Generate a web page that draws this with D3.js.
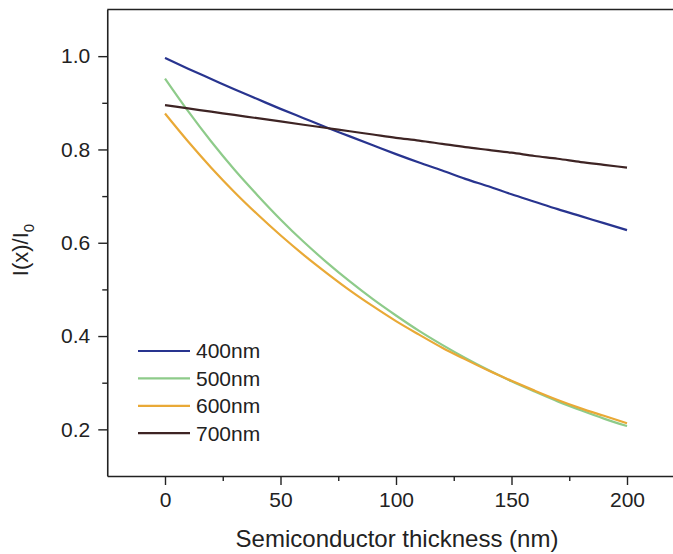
<!DOCTYPE html>
<html>
<head>
<meta charset="utf-8">
<script src="https://cdn.jsdelivr.net/npm/d3@7"></script>
<style>
  body { margin: 0; background: #fff; }
  svg { display: block; font-family: "Liberation Sans", Arial, sans-serif; }
</style>
</head>
<body>
<svg id="chart" width="673" height="554"></svg>
<script>
// thickness values (nm)
const thickness = [0, 10, 20, 30, 40, 50, 60, 70, 80, 90, 100, 110, 120, 130, 140, 150, 160, 170, 180, 190, 200];

// I(x)/I0
const i400 = [0.996, 0.973, 0.951, 0.929, 0.908, 0.887, 0.867, 0.847, 0.828, 0.809, 0.790, 0.772, 0.755, 0.737, 0.721, 0.704, 0.688, 0.672, 0.657, 0.642, 0.627];
const i500 = [0.952, 0.882, 0.817, 0.757, 0.702, 0.650, 0.602, 0.558, 0.517, 0.479, 0.444, 0.411, 0.381, 0.353, 0.327, 0.303, 0.281, 0.260, 0.241, 0.223, 0.207];
const i600 = [0.877, 0.817, 0.761, 0.709, 0.661, 0.616, 0.574, 0.535, 0.498, 0.464, 0.432, 0.403, 0.375, 0.350, 0.326, 0.304, 0.283, 0.263, 0.245, 0.229, 0.213];
const i700 = [0.895, 0.888, 0.881, 0.874, 0.867, 0.860, 0.853, 0.846, 0.839, 0.832, 0.825, 0.819, 0.812, 0.805, 0.799, 0.793, 0.786, 0.780, 0.773, 0.767, 0.761];

const seriesNames = ["400nm", "500nm", "600nm", "700nm"];
const seriesValues = [i400, i500, i600, i700];
const colors = ["#28348f", "#8ecb8a", "#e9a936", "#3e2424"];

const xTicks = [0, 50, 100, 150, 200];
const xMinor = [25, 75, 125, 175];
const yTicks = [0.2, 0.4, 0.6, 0.8, 1.0];
const yMinor = [0.3, 0.5, 0.7, 0.9];

const svg = d3.select("#chart");

const x = d3.scaleLinear().domain([-25, 225]).range([107.25, 684.75]);
const y = d3.scaleLinear().domain([0.1, 1.1]).range([476, 9.5]);

const axisColor = "#222";

// frame top line
svg.append("line")
  .attr("x1", x(-25)).attr("x2", x(225))
  .attr("y1", y(1.1)).attr("y2", y(1.1))
  .attr("stroke", axisColor).attr("stroke-width", 1.6);

function styleAxis(g) {
  g.select(".domain").attr("stroke", axisColor).attr("stroke-width", 1.6);
  g.selectAll(".tick line").attr("stroke", axisColor).attr("stroke-width", 1.4);
  g.selectAll(".tick text")
    .attr("fill", "#222")
    .style("font-size", "21px")
    .style("font-family", "Liberation Sans, Arial, sans-serif");
}

// x axis
svg.append("g")
  .attr("transform", `translate(0,${y(0.1)})`)
  .call(d3.axisBottom(x).tickValues(xTicks).tickSize(9).tickPadding(7).tickSizeOuter(0).tickFormat(d3.format("d")))
  .call(styleAxis);

svg.append("g")
  .attr("transform", `translate(0,${y(0.1)})`)
  .call(d3.axisBottom(x).tickValues(xMinor).tickSize(5).tickFormat(""))
  .call(g => g.select(".domain").remove())
  .call(styleAxis);

// y axis
svg.append("g")
  .attr("transform", `translate(${x(-25)},0)`)
  .call(d3.axisLeft(y).tickValues(yTicks).tickSize(9).tickPadding(8).tickSizeOuter(0).tickFormat(d3.format(".1f")))
  .call(styleAxis);

svg.append("g")
  .attr("transform", `translate(${x(-25)},0)`)
  .call(d3.axisLeft(y).tickValues(yMinor).tickSize(5).tickFormat(""))
  .call(g => g.select(".domain").remove())
  .call(styleAxis);

// lines
const line = d3.line()
  .x((d, i) => x(thickness[i]))
  .y(d => y(d))
  .curve(d3.curveMonotoneX);

svg.selectAll("path.series")
  .data(seriesValues)
  .enter()
  .append("path")
  .attr("class", "series")
  .attr("d", d => line(d))
  .attr("fill", "none")
  .attr("stroke", (d, i) => colors[i])
  .attr("stroke-width", 2.2);

// legend
const legend = svg.append("g");
seriesNames.forEach((name, i) => {
  const ly = 351 + i * 27.4;
  legend.append("line")
    .attr("x1", 138).attr("x2", 190)
    .attr("y1", ly).attr("y2", ly)
    .attr("stroke", colors[i]).attr("stroke-width", 2.2);
  legend.append("text")
    .attr("x", 196).attr("y", ly)
    .attr("dy", "0.35em")
    .attr("fill", "#222")
    .style("font-size", "21px")
    .text(name);
});

// axis titles
svg.append("text")
  .attr("x", 397).attr("y", 547)
  .attr("text-anchor", "middle")
  .attr("fill", "#222")
  .style("font-size", "24px")
  .text("Semiconductor thickness (nm)");

const yTitle = svg.append("text")
  .attr("transform", "translate(28,250) rotate(-90)")
  .attr("text-anchor", "middle")
  .attr("fill", "#222")
  .style("font-size", "22px");
yTitle.append("tspan").text("I(x)/I");
yTitle.append("tspan").attr("dy", 6).style("font-size", "15px").text("0");
</script>
</body>
</html>
